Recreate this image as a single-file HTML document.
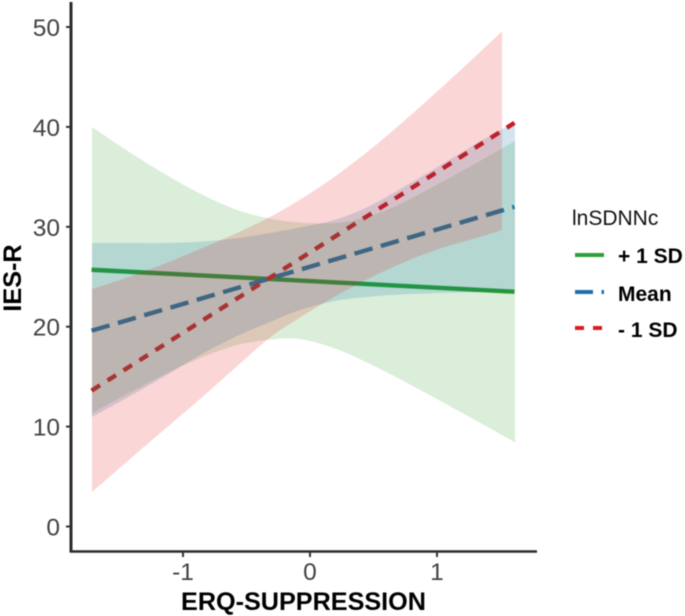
<!DOCTYPE html>
<html lang="en">
<head>
<meta charset="utf-8">
<title>IES-R by ERQ-Suppression and lnSDNNc</title>
<style>
html,body{margin:0;padding:0;background:#fff;width:685px;height:616px;overflow:hidden}
svg{display:block;filter:blur(0.6px)}
text{font-family:"Liberation Sans",sans-serif}
.tick{fill:#424242;font-size:24.5px}
.title{fill:#000;font-size:25.2px;font-weight:bold}
.leg{fill:#000;font-size:21px;font-weight:bold}
</style>
</head>
<body>
<svg id="chart" xmlns="http://www.w3.org/2000/svg" width="685" height="616" viewBox="0 0 685 616">
  <g id="lines"></g>
  <g id="bands"></g>
  <g id="axes">
    <line x1="71" y1="2" x2="71" y2="552.5" stroke="#2b2b2b" stroke-width="3"/>
    <line x1="70" y1="551.5" x2="537" y2="551.5" stroke="#2b2b2b" stroke-width="2.5"/>
  </g>
  <text class="title" x="303.5" y="610" text-anchor="middle">ERQ-SUPPRESSION</text>
  <text class="title" transform="translate(21,278) rotate(-90)" text-anchor="middle">IES-R</text>
  <g>
    <text x="572" y="225" font-size="21" fill="#111">lnSDNNc</text>
    <line x1="575" y1="255" x2="604" y2="255" stroke="#2f9e36" stroke-width="4"/>
    <text class="leg" x="618" y="263">+ 1 SD</text>
    <line x1="575" y1="292" x2="604" y2="292" stroke="#1f6fae" stroke-width="4" stroke-dasharray="18 8.5 2.5 10"/>
    <text class="leg" x="618" y="301">Mean</text>
    <line x1="575" y1="328" x2="604" y2="328" stroke="#d81e20" stroke-width="4" stroke-dasharray="9 9"/>
    <text class="leg" x="618" y="337">- 1 SD</text>
  </g>
</svg>
<script>
// Axis ticks
const xTicks = [-1, 0, 1];
const yTicks = [0, 10, 20, 30, 40, 50];

// Shared x positions of the confidence band samples (data units)
const bandX = [-1.7165, -1.4173, -1.1417, -0.8661, -0.5906, -0.315, -0.0787, 0.1969, 0.4488, 0.7087, 1.0236, 1.3386, 1.6142];
const redBandX = [-1.7165, -1.4173, -1.1417, -0.8661, -0.5906, -0.315, -0.0787, 0.1969, 0.4488, 0.7087, 1.0236, 1.3386, 1.5118];

// + 1 SD
const greenUpper = [39.99, 37.44, 35.27, 33.33, 31.76, 30.82, 30.43, 30.38, 30.98, 32.28, 34.38, 36.59, 38.59];
const greenLower = [11.36, 13.41, 15.24, 16.85, 18.11, 18.71, 18.77, 17.82, 16.41, 14.75, 12.59, 10.39, 8.43];
// Mean
const blueUpper = [28.38, 28.38, 28.38, 28.5, 28.83, 29.38, 29.93, 30.7, 31.95, 33.77, 36.14, 38.54, 40.46];
const blueLower = [10.96, 13.06, 15.07, 17.17, 18.97, 20.47, 21.67, 22.57, 22.97, 23.22, 23.37, 23.47, 23.57];
// - 1 SD
const redUpper = [23.77, 25.03, 26.33, 27.78, 29.28, 30.98, 32.72, 35.04, 37.47, 40.24, 43.8, 47.49, 49.56];
const redLower = [3.45, 6.76, 9.76, 12.76, 15.87, 18.92, 20.92, 23.02, 24.72, 26.28, 27.83, 28.98, 29.68];

// Fitted lines: value at each end of the x range
const lineX = [-1.72, 1.61];
const greenLine = [25.7, 23.5];
const blueLine = [19.6, 32.0];
const redLine = [13.6, 40.4];

const NS = 'http://www.w3.org/2000/svg';
function sx(v) { return 310 + 127 * v; }
function sy(v) { return 526.5 - 9.99 * v; }

function curve(pts) {
  let d = '';
  for (let i = 0; i < pts.length - 1; i++) {
    const p0 = pts[Math.max(i - 1, 0)];
    const p1 = pts[i];
    const p2 = pts[i + 1];
    const p3 = pts[Math.min(i + 2, pts.length - 1)];
    const c1x = p1[0] + (p2[0] - p0[0]) / 6;
    const c1y = p1[1] + (p2[1] - p0[1]) / 6;
    const c2x = p2[0] - (p3[0] - p1[0]) / 6;
    const c2y = p2[1] - (p3[1] - p1[1]) / 6;
    d += 'C' + c1x.toFixed(2) + ' ' + c1y.toFixed(2) + ' ' + c2x.toFixed(2) + ' ' + c2y.toFixed(2) + ' ' + p2[0].toFixed(2) + ' ' + p2[1].toFixed(2);
  }
  return d;
}

function bandPath(xs, up, lo) {
  const top = xs.map((x, i) => [sx(x), sy(up[i])]);
  const bot = xs.map((x, i) => [sx(x), sy(lo[i])]).reverse();
  return 'M' + top[0][0].toFixed(2) + ' ' + top[0][1].toFixed(2) + curve(top) +
    'L' + bot[0][0].toFixed(2) + ' ' + bot[0][1].toFixed(2) + curve(bot) + 'Z';
}

const linesG = document.getElementById('lines');
const bandsG = document.getElementById('bands');
const axesG = document.getElementById('axes');
const svg = document.getElementById('chart');

// Lines sit beneath the ribbons
const gl = document.createElementNS(NS, 'line');


gl.setAttribute('x1', sx(lineX[0]));
gl.setAttribute('y1', sy(greenLine[0]));
gl.setAttribute('x2', sx(lineX[1]));
gl.setAttribute('y2', sy(greenLine[1]));
gl.setAttribute('stroke', '#219a2a');
gl.setAttribute('stroke-width', '4.4');
linesG.appendChild(gl);

const bl = document.createElementNS(NS, 'line');


bl.setAttribute('x1', sx(lineX[0]));
bl.setAttribute('y1', sy(blueLine[0]));
bl.setAttribute('x2', sx(lineX[1]));
bl.setAttribute('y2', sy(blueLine[1]));
bl.setAttribute('stroke', '#166ead');
bl.setAttribute('stroke-width', '4.4');
bl.setAttribute('stroke-dasharray', '18.7 8.7');
linesG.appendChild(bl);

const rl = document.createElementNS(NS, 'line');


rl.setAttribute('x1', sx(lineX[0]));
rl.setAttribute('y1', sy(redLine[0]));
rl.setAttribute('x2', sx(lineX[1]));
rl.setAttribute('y2', sy(redLine[1]));
rl.setAttribute('stroke', '#d91014');
rl.setAttribute('stroke-width', '4.4');
rl.setAttribute('stroke-dasharray', '10 8.9');
linesG.appendChild(rl);

const gb = document.createElementNS(NS, 'path');


gb.setAttribute('d', bandPath(bandX, greenUpper, greenLower));
gb.setAttribute('fill', '#33a02c');
gb.setAttribute('fill-opacity', '0.18');
bandsG.appendChild(gb);

const bb = document.createElementNS(NS, 'path');


bb.setAttribute('d', bandPath(bandX, blueUpper, blueLower));
bb.setAttribute('fill', '#1f78b4');
bb.setAttribute('fill-opacity', '0.2');
bandsG.appendChild(bb);

const rb = document.createElementNS(NS, 'path');


rb.setAttribute('d', bandPath(redBandX, redUpper, redLower));
rb.setAttribute('fill', '#e31a1c');
rb.setAttribute('fill-opacity', '0.18');
bandsG.appendChild(rb);

yTicks.forEach(function (v) {
  const t = document.createElementNS(NS, 'line');
  
  
  t.setAttribute('x1', 66);
  t.setAttribute('x2', 70);
  t.setAttribute('y1', sy(v));
  t.setAttribute('y2', sy(v));
  t.setAttribute('stroke', '#333');
  t.setAttribute('stroke-width', '2');
  axesG.appendChild(t);
  const l = document.createElementNS(NS, 'text');
  
  
  l.setAttribute('class', 'tick');
  l.setAttribute('x', 60);
  l.setAttribute('y', sy(v) + 9);
  l.setAttribute('text-anchor', 'end');
  l.textContent = String(v);
  svg.appendChild(l);
});

xTicks.forEach(function (v) {
  const t = document.createElementNS(NS, 'line');
  
  
  t.setAttribute('x1', sx(v));
  t.setAttribute('x2', sx(v));
  t.setAttribute('y1', 552);
  t.setAttribute('y2', 557);
  t.setAttribute('stroke', '#333');
  t.setAttribute('stroke-width', '2');
  axesG.appendChild(t);
  const l = document.createElementNS(NS, 'text');
  
  
  l.setAttribute('class', 'tick');
  l.setAttribute('x', sx(v));
  l.setAttribute('y', 580);
  l.setAttribute('text-anchor', 'middle');
  l.textContent = String(v);
  svg.appendChild(l);
});
</script>
</body>
</html>
